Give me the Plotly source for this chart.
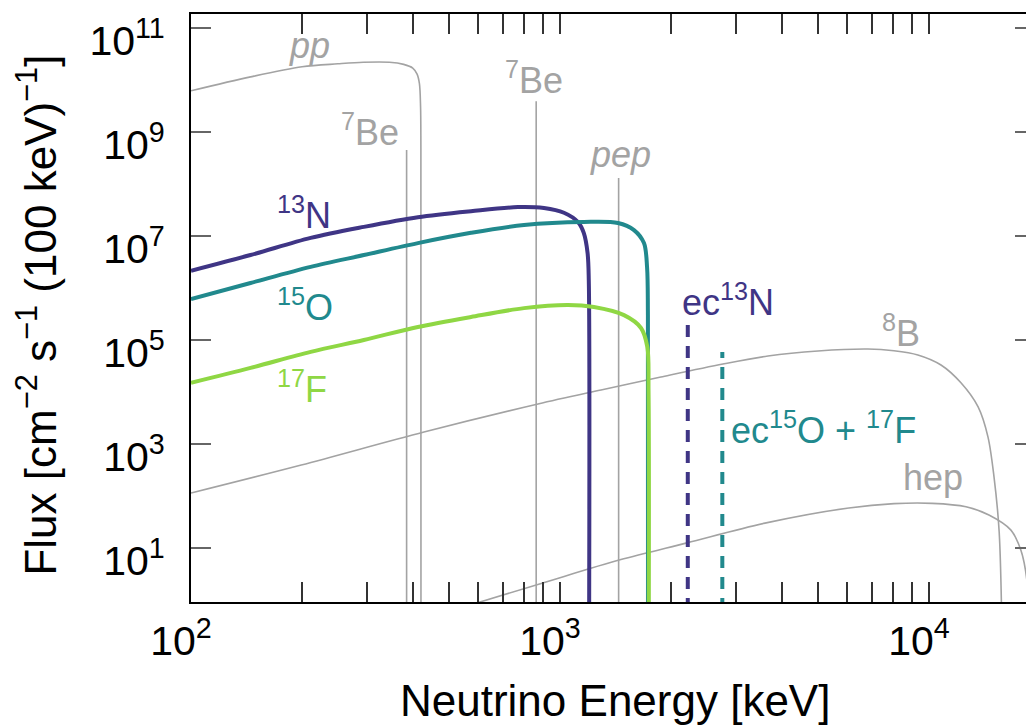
import plotly.graph_objects as go

# ---- Continuum spectra: energy [keV], flux [cm^-2 s^-1 (100 keV)^-1] ----
pp_e = [100, 145, 200, 250, 293, 345, 377, 399, 410, 416, 419, 419.8, 420]
pp_f = [6.2e9, 1.15e10, 1.8e10, 2.05e10, 2.2e10, 2.2e10, 2.0e10, 1.7e10,
        1.3e10, 8.5e9, 3.0e9, 5.0e8, 0.1]

b8_e = [100, 199, 428, 872, 1292, 1877, 2765, 3662, 5003, 6833, 8036, 9330,
        10780, 12210, 13580, 14450, 15010, 15500, 15800]
b8_f = [114, 394, 1.70e3, 5.87e3, 1.09e4, 1.94e4, 3.45e4, 4.92e4, 6.14e4,
        6.7e4, 6.2e4, 5.15e4, 3.3e4, 1.5e4, 5.2e3, 1.37e3, 230, 20, 0.1]

hep_e = [500, 894, 1454, 2208, 3594, 6067, 8046, 10200, 12600, 14540, 16680,
         17750, 18420, 18770]
hep_f = [0.6, 2.1, 5.9, 12.5, 30, 58.7, 71, 72, 62, 43, 22, 9, 2.4, 0.1]

cno_n13_e = [100, 145, 211, 294, 412, 574, 769, 905, 1025, 1119, 1160, 1188,
             1197, 1199]
cno_n13_f = [2.15e6, 4.3e6, 9.2e6, 1.5e7, 2.3e7, 3.0e7, 3.6e7, 3.45e7, 2.8e7,
             1.85e7, 1.15e7, 4.7e6, 1.4e6, 0.1]

cno_o15_e = [100, 145, 211, 294, 412, 574, 799, 1161, 1436, 1587, 1689, 1722,
             1731, 1732]
cno_o15_f = [6.1e5, 1.25e6, 2.55e6, 4.3e6, 7.3e6, 1.15e7, 1.63e7, 1.86e7,
             1.78e7, 1.3e7, 7.3e6, 2.5e6, 3.0e5, 0.1]

cno_f17_e = [100, 145, 211, 294, 412, 574, 799, 1051, 1236, 1491, 1658, 1725,
             1738, 1740]
cno_f17_f = [1.5e4, 2.9e4, 5.9e4, 1.0e5, 1.78e5, 2.77e5, 4.1e5, 4.7e5, 4.3e5,
             3.0e5, 1.7e5, 7.3e4, 1.0e4, 0.1]

# ---- Mono-energetic lines: energy [keV], flux ----
line_names = ["7Be (384)", "7Be (862)", "pep"]
line_e = [384, 862, 1442]
line_f = [4.5e8, 3.9e9, 1.3e8]

ec_names = ["ec 13N", "ec 15O + 17F"]
ec_e = [2220, 2754]
ec_f = [2.1e5, 5.9e4]

FLOOR = 0.1  # below the visible flux range, so lines run off the bottom

# ---- Axis ticks ----
x_major = [100, 1000, 10000]
x_major_text = ["10<sup>2</sup>", "10<sup>3</sup>", "10<sup>4</sup>"]
x_minor = [200, 300, 400, 500, 600, 700, 800, 900,
           2000, 3000, 4000, 5000, 6000, 7000, 8000, 9000]
y_major = [1e1, 1e3, 1e5, 1e7, 1e9, 1e11]
y_major_text = ["10<sup>1</sup>", "10<sup>3</sup>", "10<sup>5</sup>",
                "10<sup>7</sup>", "10<sup>9</sup>", "10<sup>11</sup>"]

GRAY = "#a3a3a3"
C_N13 = "#3f3585"
C_O15 = "#21898d"
C_F17 = "#8fd744"
FONT = "Liberation Sans, Arial, sans-serif"

fig = go.Figure()


def add_line(x, y, color, width, dash="solid", smooth=False):
    line = dict(color=color, width=width, dash=dash)
    if smooth:
        line.update(shape="spline", smoothing=0.9)
    fig.add_trace(go.Scatter(x=x, y=y, mode="lines", hoverinfo="skip",
                             line=line, showlegend=False))


# gray solar spectra
add_line(b8_e, b8_f, GRAY, 1.6, smooth=True)
add_line(hep_e, hep_f, GRAY, 1.6, smooth=True)
add_line(pp_e, pp_f, GRAY, 1.6, smooth=True)
for e, f in zip(line_e, line_f):
    add_line([e, e], [FLOOR, f], GRAY, 1.6)

# CNO continuum spectra
add_line(cno_n13_e, cno_n13_f, C_N13, 4, smooth=True)
add_line(cno_o15_e, cno_o15_f, C_O15, 4, smooth=True)
add_line(cno_f17_e, cno_f17_f, C_F17, 4, smooth=True)

# electron-capture lines
add_line([ec_e[0], ec_e[0]], [FLOOR, ec_f[0]], C_N13, 4, "12px,9px")
add_line([ec_e[1], ec_e[1]], [FLOOR, ec_f[1]], C_O15, 4, "12px,9px")

# helper trace for the right-hand tick axis
fig.add_trace(go.Scatter(x=[None], y=[None], yaxis="y2", showlegend=False))

ann_font = 36
labels = [
    ("<i>pp</i>", 2.32, 10.67, GRAY),
    ("<sup>7</sup>Be", 2.485, 9.04, GRAY),
    ("<sup>7</sup>Be", 2.93, 10.04, GRAY),
    ("<i>pep</i>", 3.163, 8.56, GRAY),
    ("<sup>13</sup>N", 2.306, 7.44, C_N13),
    ("<sup>15</sup>O", 2.309, 5.67, C_O15),
    ("<sup>17</sup>F", 2.30, 4.10, C_F17),
    ("ec<sup>13</sup>N", 3.455, 5.77, C_N13),
    ("ec<sup>15</sup>O + <sup>17</sup>F", 3.713, 3.31, C_O15),
    ("<sup>8</sup>B", 3.924, 5.17, GRAY),
    ("hep", 4.011, 2.35, GRAY),
]
for text, lx, ly, col in labels:
    fig.add_annotation(x=lx, y=ly, xref="x", yref="y", text=text,
                       showarrow=False, xanchor="center", yanchor="middle",
                       font=dict(size=ann_font, color=col, family=FONT))

# axis titles
fig.add_annotation(x=0.5078, y=-0.1667, xref="paper", yref="paper",
                   xanchor="center", yanchor="middle",
                   text="Neutrino Energy [keV]", showarrow=False,
                   font=dict(size=44, color="black", family=FONT))
fig.add_annotation(x=-0.185, y=0.488, xref="paper", yref="paper",
                   xanchor="center", yanchor="middle",
                   text="Flux [cm<sup>−2</sup> s<sup>−1</sup> (100 keV)<sup>−1</sup>]",
                   textangle=-90, showarrow=False,
                   font=dict(size=44, color="black", family=FONT))

y_range = [-0.04, 11.27]

fig.update_layout(
    width=1026, height=727,
    margin=dict(l=191, r=0, t=14, b=125),
    paper_bgcolor="white", plot_bgcolor="white",
    font=dict(family=FONT, color="black"),
    xaxis=dict(type="log", range=[2.0, 4.263], showgrid=False,
               zeroline=False, showline=True, linecolor="black",
               linewidth=2, mirror="allticks", ticks="inside", ticklen=20,
               tickwidth=1.5, tickcolor="#333333", tickvals=x_major,
               ticktext=x_major_text, tickfont=dict(size=41),
               ticklabelstandoff=2, ticklabelshift=-10,
               minor=dict(ticks="inside", ticklen=11, tickwidth=1.5,
                          tickcolor="#333333", tickvals=x_minor,
                          showgrid=False)),
    yaxis=dict(type="log", range=y_range, showgrid=False, zeroline=False,
               showline=True, linecolor="black", linewidth=2, mirror=False,
               ticks="inside", ticklen=20, tickwidth=1.5,
               tickcolor="#666666", tickvals=y_major, ticktext=y_major_text,
               tickfont=dict(size=41), ticklabelstandoff=16,
               ticklabelshift=13),
    yaxis2=dict(type="log", range=y_range, overlaying="y", side="right",
                showgrid=False, zeroline=False, showline=False,
                ticks="inside", ticklen=11, tickwidth=1.5,
                tickcolor="#666666", tickvals=y_major,
                showticklabels=False),
)

fig.write_html("out.html")
